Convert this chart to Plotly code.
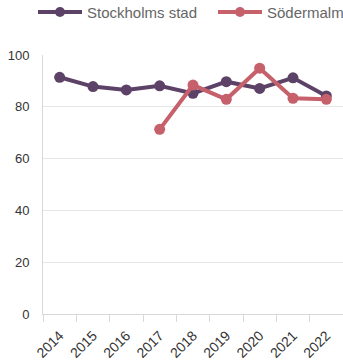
import plotly.graph_objects as go

years = ["2014", "2015", "2016", "2017", "2018", "2019", "2020", "2021", "2022"]
stockholm = [91.4, 87.8, 86.5, 88.1, 85.2, 89.7, 87.1, 91.2, 84.2]
sodermalm = [None, None, None, 71.3, 88.4, 82.9, 94.9, 83.3, 82.9]
series_names = ["Stockholms stad", "Södermalm"]

y_ticks = [0, 20, 40, 60, 80, 100]

PURPLE = "#5d4267"
ROSE = "#c6606b"
colors = [PURPLE, ROSE]

W, H = 343, 360
M_L, M_R, M_T, M_B = 43, 0, 55, 46
plot_w = W - M_L - M_R
plot_h = H - M_T - M_B

fig = go.Figure()
for name, vals, col in zip(series_names, [stockholm, sodermalm], colors):
    fig.add_trace(go.Scatter(
        x=years, y=vals, name=name, mode="lines+markers",
        line=dict(color=col, width=4), marker=dict(size=11, color=col),
        showlegend=False,
    ))


def px_x(px):
    return (px - M_L) / plot_w


def px_y(py):
    return (H - M_B - py) / plot_h


# Legend row drawn above the plot: line swatch, dot and label per series
legend_y = 12
legend_starts = [38, 218]
for name, col, x0 in zip(series_names, colors, legend_starts):
    fig.add_shape(
        type="line", xref="paper", yref="paper",
        x0=px_x(x0), x1=px_x(x0 + 44), y0=px_y(legend_y), y1=px_y(legend_y),
        line=dict(color=col, width=4),
    )
    fig.add_shape(
        type="circle", xref="paper", yref="paper",
        x0=px_x(x0 + 22 - 5), x1=px_x(x0 + 22 + 5),
        y0=px_y(legend_y + 5), y1=px_y(legend_y - 5),
        fillcolor=col, line=dict(width=0),
    )
    fig.add_annotation(
        text=name, xref="paper", yref="paper",
        x=px_x(x0 + 47), y=px_y(legend_y), xanchor="left", yanchor="middle",
        showarrow=False, font=dict(size=15, color="#666666"),
    )

fig.update_layout(
    width=W, height=H,
    margin=dict(l=M_L, r=M_R, t=M_T, b=M_B, autoexpand=False),
    paper_bgcolor="white", plot_bgcolor="white",
    font=dict(family="Liberation Sans, Arial, sans-serif", color="#333333", size=13),
    showlegend=False,
    xaxis=dict(
        type="category", tickson="boundaries", showgrid=False,
        showline=True, linecolor="#d9d9d9", linewidth=1,
        ticks="outside", ticklen=7, tickcolor="#d9d9d9",
        tickangle=-45, tickfont=dict(size=14, color="#333333"),
        ticklabelstandoff=7,
        range=[-0.5, 8.5], fixedrange=True,
    ),
    yaxis=dict(
        range=[0, 100], tickvals=y_ticks, showgrid=True, gridcolor="#e6e6e6",
        zeroline=False, showline=True, linecolor="#d9d9d9", linewidth=1,
        ticks="", ticklabelstandoff=10, tickfont=dict(size=13, color="#333333"),
        fixedrange=True,
    ),
)

fig.write_html("out.html")
